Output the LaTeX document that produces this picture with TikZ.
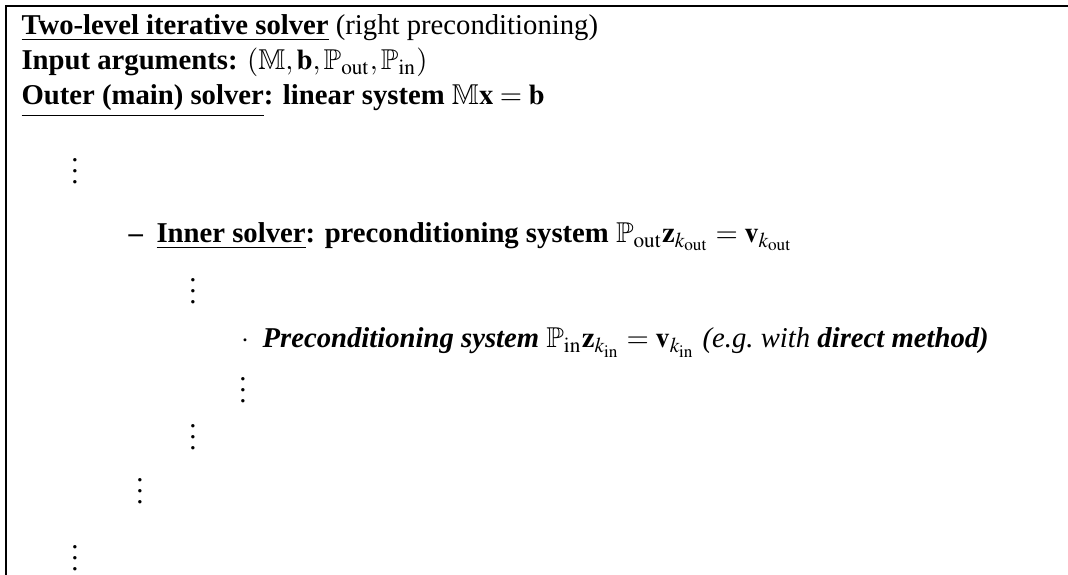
\documentclass[tikz,border=0pt]{standalone}
\usepackage{amssymb}
\usepackage{mathptmx}
\usepackage{fontspec}
\setmainfont{Liberation Serif}
\newcommand{\tightvdots}{\vbox{\baselineskip4pt \lineskiplimit0pt \hbox{.}\hbox{.}\hbox{.}}}
\tikzset{
     algoLine/.style =
        { anchor=base west
        , inner sep=0pt
        , font=\fontsize{10}{12}\selectfont
        }
   , dotsNode/.style =
        { anchor=base
        , inner sep=0pt
        , font=\fontsize{10}{12}\selectfont
        }
   , frameLine/.style =
        { line width=0.7pt
        }
}

\begin{document}
\begin{tikzpicture}
            [ x=0.3484pt
            , y=-0.3484pt
            ]
            \useasboundingbox (0,0) rectangle (1068,575);
            % frame (top and left only)
            \coordinate (topEnd) at (1068,6);
            \coordinate (corner) at (6,6);
            \coordinate (leftEnd) at (6,575);
            \draw[frameLine] (topEnd) -- (corner) -- (leftEnd);

            \node[algoLine] (title) at (21,35)
                {\textbf{\underline{Two-level iterative solver}} (right preconditioning)};
            \node[algoLine] (args) at (21,70)
                {\textbf{Input arguments:} $(\mathbb{M},\mathbf{b},\mathbb{P}_{\mathrm{out}},\mathbb{P}_{\mathrm{in}})$};
            \node[algoLine] (outer) at (21,105)
                {\textbf{\underline{Outer (main) solver}: linear system} $\mathbb{M}\mathbf{x}=\mathbf{b}$};

            \node[dotsNode] (dotsA) at (75,184) {\tightvdots};

            \node[algoLine] (dash) at (128,243) {\textbf{--}};
            \node[algoLine] (inner) at (156,243)
                {\textbf{\underline{Inner solver}: preconditioning system} $\mathbb{P}_{\mathrm{out}}\mathbf{z}_{k_{\mathrm{out}}}=\mathbf{v}_{k_{\mathrm{out}}}$};

            \node[dotsNode] (dotsB) at (193,304) {\tightvdots};

            \node[algoLine] (bullet) at (241,348) {$\cdot$};
            \node[algoLine] (precond) at (262,348)
                {\textbf{\textit{Preconditioning system}} $\mathbb{P}_{\mathrm{in}}\mathbf{z}_{k_{\mathrm{in}}}=\mathbf{v}_{k_{\mathrm{in}}}$ \textit{(e.g.\ with \textbf{direct method)}}};

            \node[dotsNode] (dotsC) at (243,403) {\tightvdots};
            \node[dotsNode] (dotsD) at (193,450) {\tightvdots};
            \node[dotsNode] (dotsE) at (140,504) {\tightvdots};
            \node[dotsNode] (dotsF) at (75,571) {\tightvdots};
        \end{tikzpicture}
\end{document}
